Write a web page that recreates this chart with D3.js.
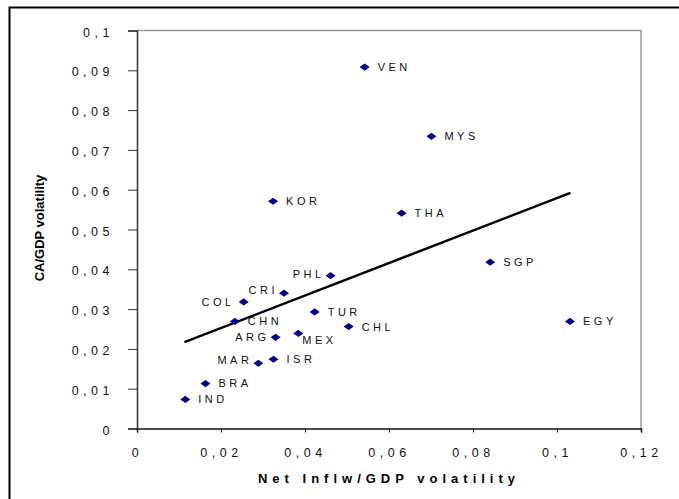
<!DOCTYPE html>
<html>
<head>
<meta charset="utf-8">
<script src="https://cdn.jsdelivr.net/npm/d3@7"></script>
<style>
  body { margin: 0; background: #fff; }
  svg { display: block; }
  text { font-family: Arial, "Liberation Sans", sans-serif; }
</style>
</head>
<body>
<svg width="679" height="499"></svg>
<script>
// Data
var countries = ["VEN","MYS","KOR","THA","SGP","PHL","CRI","COL","CHN","TUR","CHL","EGY","MEX","ARG","ISR","MAR","BRA","IND"];
var inflowVol = [0.0542,0.0701,0.0324,0.0630,0.0841,0.0461,0.0350,0.0254,0.0233,0.0423,0.0504,0.1031,0.0384,0.0330,0.0325,0.0289,0.0163,0.0115];
var caVol     = [0.0908,0.0734,0.0571,0.0541,0.0418,0.0384,0.0340,0.0318,0.0269,0.0293,0.0256,0.0269,0.0239,0.0229,0.0174,0.0164,0.0113,0.0073];
var trendX = [0.0113, 0.1032];
var trendY = [0.0217, 0.0592];
var xTicks = [0, 0.02, 0.04, 0.06, 0.08, 0.1, 0.12];
var yTicks = [0, 0.01, 0.02, 0.03, 0.04, 0.05, 0.06, 0.07, 0.08, 0.09, 0.1];

// label placement: side and small nudges
var labelPos = {
  PHL: {side: "left", dy: -2}, CRI: {side: "left", dy: -3}, COL: {side: "left", dy: 0, dx: -3},
  ARG: {side: "left", dy: 0}, MAR: {side: "left", dy: -3}, MEX: {side: "below"}
};

var svg = d3.select("svg");
var fmt = function(d) { return String(d).replace(".", ","); };

// outer frame (right and bottom edges fall outside the picture)
svg.append("path")
  .attr("d", "M9.5,499V7.5H679")
  .attr("fill", "none").attr("stroke", "#000").attr("stroke-width", 2);

var x = d3.scaleLinear().domain([0, 0.12]).range([137, 641]);
var y = d3.scaleLinear().domain([0, 0.1]).range([428.5, 30.5]);

// plot area border (top/right gray)
svg.append("path")
  .attr("d", "M" + x(0) + "," + y(0.1) + "H" + x(0.12) + "V" + y(0))
  .attr("fill", "none").attr("stroke", "#999").attr("stroke-width", 1.5);

// y axis
var yAxis = svg.append("g").attr("transform", "translate(" + x(0) + ",0)")
  .call(d3.axisLeft(y).tickValues(yTicks).tickFormat(fmt).tickSize(9).tickPadding(14));
yAxis.select(".domain").attr("stroke", "#333").attr("stroke-width", 1.5);
yAxis.selectAll(".tick line").attr("stroke", "#333");
yAxis.selectAll(".tick text")
  .attr("font-size", 12.5).attr("fill", "#111")
  .attr("letter-spacing", "4.5px").attr("dy", "0.45em");

// x axis
var xAxis = svg.append("g").attr("transform", "translate(0," + y(0) + ")")
  .call(d3.axisBottom(x).tickValues(xTicks).tickFormat(fmt).tickSize(4).tickPadding(16));
xAxis.select(".domain").attr("stroke", "#111").attr("stroke-width", 1.5);
xAxis.selectAll(".tick line").attr("stroke", "#111");
xAxis.selectAll(".tick text")
  .attr("font-size", 12.5).attr("fill", "#111")
  .attr("letter-spacing", "4.5px");

// trend line
svg.append("line")
  .attr("x1", x(trendX[0])).attr("y1", y(trendY[0]))
  .attr("x2", x(trendX[1])).attr("y2", y(trendY[1]))
  .attr("stroke", "#000").attr("stroke-width", 2.5);

// points
var pts = countries.map(function(c, i) { return {name: c, x: inflowVol[i], y: caVol[i]}; });

svg.append("g").selectAll("path")
  .data(pts).enter().append("path")
  .attr("transform", function(d) { return "translate(" + x(d.x) + "," + y(d.y) + ")"; })
  .attr("d", "M-5,0L0,-3.6L5,0L0,3.6Z")
  .attr("fill", "#000080");

svg.append("g").selectAll("text")
  .data(pts).enter().append("text")
  .attr("font-size", 11).attr("fill", "#111").attr("letter-spacing", "3.5px")
  .attr("x", function(d) {
    var p = labelPos[d.name];
    if (p && p.side == "left") return x(d.x) - 6 + (p.dx || 0);
    if (p && p.side == "below") return x(d.x) + 4;
    return x(d.x) + 13;
  })
  .attr("y", function(d) {
    var p = labelPos[d.name];
    if (p && p.side == "below") return y(d.y) + 7;
    return y(d.y) + (p ? p.dy : 0);
  })
  .attr("dy", "0.36em")
  .attr("text-anchor", function(d) {
    var p = labelPos[d.name];
    return (p && p.side == "left") ? "end" : "start";
  })
  .text(function(d) { return d.name; });

// axis titles
svg.append("text")
  .attr("transform", "translate(44,228) rotate(-90)")
  .attr("text-anchor", "middle")
  .attr("font-size", 13).attr("font-weight", "bold")
  .text("CA/GDP volatility");

svg.append("text")
  .attr("x", 389).attr("y", 483)
  .attr("text-anchor", "middle")
  .attr("font-size", 13).attr("font-weight", "bold").attr("letter-spacing", "5px")
  .text("Net Inflw/GDP volatility");
</script>
</body>
</html>
